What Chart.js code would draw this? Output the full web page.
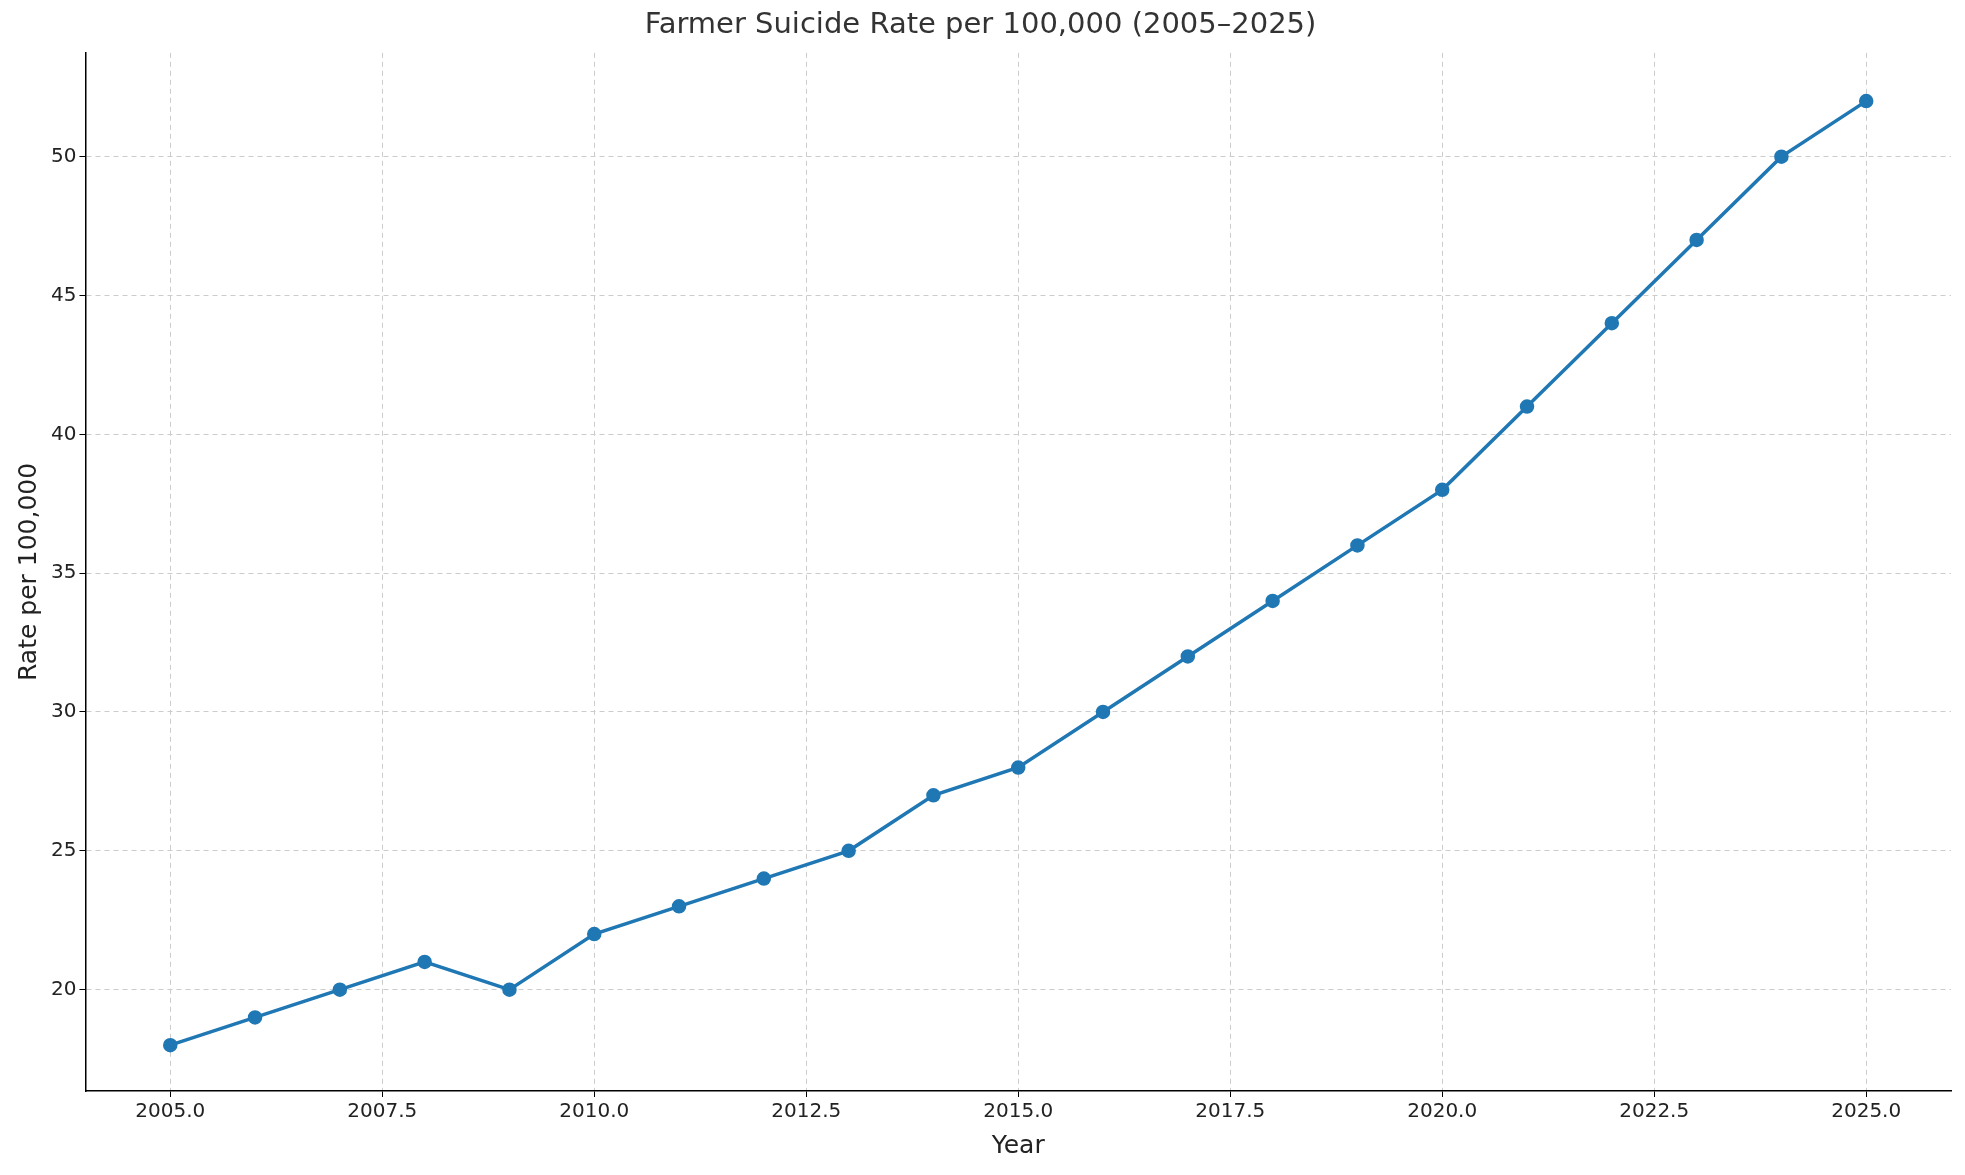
<!DOCTYPE html>
<html>
<head>
<meta charset="utf-8">
<script src="https://cdn.jsdelivr.net/npm/chart.js@4"></script>
<style>
  html, body { margin: 0; padding: 0; background: #fff; }
</style>
</head>
<body>
<canvas id="chart" width="1965" height="1175"></canvas>
<script>
// values
const years = [2005, 2006, 2007, 2008, 2009, 2010, 2011, 2012, 2013, 2014, 2015,
               2016, 2017, 2018, 2019, 2020, 2021, 2022, 2023, 2024, 2025];
const rates = [18, 19, 20, 21, 20, 22, 23, 24, 25, 27, 28,
               30, 32, 34, 36, 38, 41, 44, 47, 50, 52];
const xTicks = [2005, 2007.5, 2010, 2012.5, 2015, 2017.5, 2020, 2022.5, 2025];
const yTicks = [20, 25, 30, 35, 40, 45, 50];

const font = "'DejaVu Sans', sans-serif";
const gridStyle = { color: "#cccccc", lineWidth: 1, tickLength: 6, tickColor: "#000" };

new Chart(document.getElementById("chart").getContext("2d"), {
    type: "line",
    data: {
        datasets: [{
            data: years.map((y, i) => ({ x: y, y: rates[i] })),
            borderColor: "#1f77b4",
            backgroundColor: "#1f77b4",
            borderWidth: 3.5,
            pointRadius: 5.5,
            pointHoverRadius: 5.5,
            tension: 0,
        }],
    },
    options: {
        responsive: false,
        animation: false,
        devicePixelRatio: 1,
        layout: { padding: { top: 8, right: 14, left: 10, bottom: 10 } },
        plugins: {
            legend: { display: false },
            tooltip: { enabled: false },
            title: {
                display: true,
                text: "Farmer Suicide Rate per 100,000 (2005–2025)",
                color: "#333",
                font: { family: font, size: 29, weight: "normal" },
                padding: { top: 0, bottom: 10 },
            },
        },
        scales: {
            x: {
                type: "linear",
                min: 2004,
                max: 2026,
                afterBuildTicks: (s) => { s.ticks = xTicks.map((v) => ({ value: v })); },
                ticks: { color: "#222", font: { family: font, size: 20 }, callback: (v) => v.toFixed(1), maxRotation: 0 },
                grid: { ...gridStyle },
                border: { display: true, color: "#000", width: 1.5, dash: [5, 4] },
                title: { display: true, text: "Year", color: "#222", font: { family: font, size: 25 } },
            },
            y: {
                min: 16.35,
                max: 53.74,
                afterBuildTicks: (s) => { s.ticks = yTicks.map((v) => ({ value: v })); },
                ticks: { color: "#222", font: { family: font, size: 20 } },
                grid: { ...gridStyle },
                border: { display: true, color: "#000", width: 1.5, dash: [5, 4] },
                title: { display: true, text: "Rate per 100,000", color: "#222", font: { family: font, size: 25 } },
            },
        },
    },
});
</script>
</body>
</html>
